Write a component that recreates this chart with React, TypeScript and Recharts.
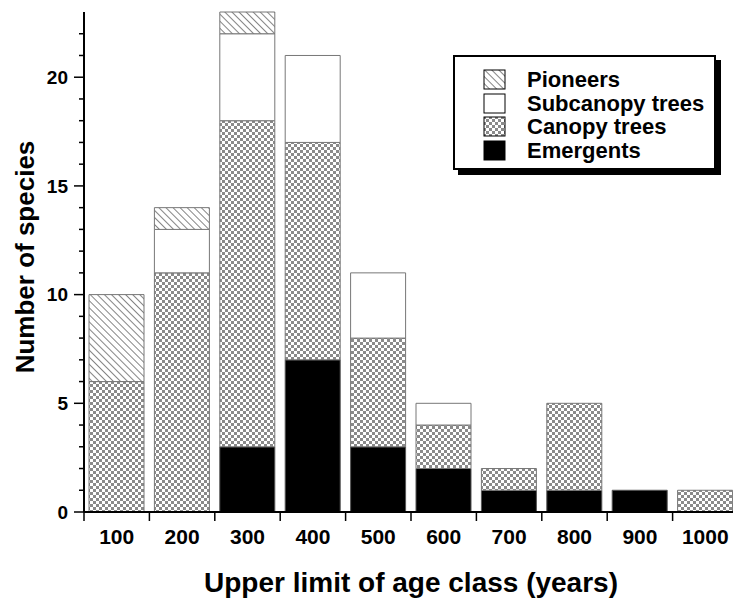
import { Bar, BarChart, Label, Legend, XAxis, YAxis } from 'recharts';

const categorias = ['100', '200', '300', '400', '500', '600', '700', '800', '900', '1000'];
const emergents = [0, 0, 3, 7, 3, 2, 1, 1, 1, 0];
const canopy = [6, 11, 15, 10, 5, 2, 1, 4, 0, 1];
const subcanopy = [0, 2, 4, 4, 3, 1, 0, 0, 0, 0];
const pioneers = [4, 1, 1, 0, 0, 0, 0, 0, 0, 0];
const yTicks = [0, 1, 2, 3, 4, 5, 6, 7, 8, 9, 10, 11, 12, 13, 14, 15, 16, 17, 18, 19, 20, 21, 22];

const FONT = '"Liberation Sans", Arial, Helvetica, sans-serif';
const CHART_W = 740;
const CHART_H = 599;
const Y_AXIS_W = 84;
const MARGIN_RIGHT = 2;
const PLOT_W = CHART_W - Y_AXIS_W - MARGIN_RIGHT;

const dados = categorias.map((c, i) => ({
  idade: c,
  emergents: emergents[i],
  canopy: canopy[i],
  subcanopy: subcanopy[i],
  pioneers: pioneers[i],
}));

// itens da legenda, de cima para baixo
const itensLegenda = [
  { nome: 'Pioneers', fill: 'url(#pad-pioneers)' },
  { nome: 'Subcanopy trees', fill: '#ffffff' },
  { nome: 'Canopy trees', fill: 'url(#pad-canopy)' },
  { nome: 'Emergents', fill: '#000000' },
];

function YTick({ x, y, payload }: any) {
  const major = payload.value % 5 === 0;
  return (
    <g>
      <line x1={x - (major ? 10 : 5)} x2={x} y1={y} y2={y} stroke="#000" strokeWidth={1.5} />
      {major && (
        <text
          x={x - 16}
          y={y}
          dy="0.36em"
          textAnchor="end"
          fontFamily={FONT}
          fontWeight="bold"
          fontSize={19}
          fill="#000"
        >
          {payload.value}
        </text>
      )}
    </g>
  );
}

function XTick({ x, y, payload }: any) {
  const banda = PLOT_W / categorias.length;
  return (
    <g>
      <line x1={x - banda / 2} x2={x - banda / 2} y1={y} y2={y + 9} stroke="#000" strokeWidth={1.5} />
      <text
        x={x}
        y={y + 32}
        textAnchor="middle"
        fontFamily={FONT}
        fontWeight="bold"
        fontSize={21}
        fill="#000"
      >
        {payload.value}
      </text>
    </g>
  );
}

function Legenda() {
  return (
    <div
      style={{
        width: 259,
        height: 111,
        border: '2px solid #000',
        boxShadow: '5px 5px 0 #000',
        background: '#fff',
        boxSizing: 'content-box',
        fontFamily: FONT,
        fontWeight: 'bold',
        fontSize: 22,
        color: '#000',
      }}
    >
      <div style={{ paddingTop: 11, paddingLeft: 28 }}>
        {itensLegenda.map((item) => (
          <div key={item.nome} style={{ display: 'flex', alignItems: 'center', height: 23.5 }}>
            <svg width={23} height={21} style={{ marginRight: 21, flex: 'none' }}>
              <rect x={1} y={1} width={21} height={19} fill={item.fill} stroke="#000" strokeWidth={1} />
            </svg>
            <span style={{ lineHeight: '23px' }}>{item.nome}</span>
          </div>
        ))}
      </div>
    </div>
  );
}

export default function App() {
  return (
    <div
      style={{
        position: 'absolute',
        left: 0,
        top: 0,
        width: 733,
        height: 599,
        overflow: 'hidden',
        background: '#fff',
      }}
    >
      {/* padrões de preenchimento */}
      <svg width={0} height={0} style={{ position: 'absolute' }}>
        <defs>
          <pattern
            id="pad-pioneers"
            patternUnits="userSpaceOnUse"
            width={5}
            height={5}
            patternTransform="rotate(-45)"
          >
            <rect width={5} height={5} fill="#fff" />
            <line x1={0} y1={0} x2={0} y2={5} stroke="#333" strokeWidth={1.2} />
          </pattern>
          <pattern id="pad-canopy" patternUnits="userSpaceOnUse" width={6} height={6}>
            <rect width={6} height={6} fill="#fff" />
            <rect x={0} y={0} width={3} height={3} fill="#8a8a8a" />
            <rect x={3} y={3} width={3} height={3} fill="#8a8a8a" />
          </pattern>
        </defs>
      </svg>

      <BarChart
        width={CHART_W}
        height={CHART_H}
        data={dados}
        margin={{ top: 12, right: MARGIN_RIGHT, left: 0, bottom: 0 }}
        barCategoryGap={5}
      >
        <XAxis
          dataKey="idade"
          height={87}
          axisLine={{ stroke: '#000', strokeWidth: 2 }}
          tickLine={false}
          tickSize={0}
          tickMargin={0}
          interval={0}
          tick={<XTick />}
        >
          <Label
            value="Upper limit of age class (years)"
            position="insideBottom"
            offset={7}
            style={{ fontFamily: FONT, fontWeight: 'bold', fontSize: 28, fill: '#000' }}
          />
        </XAxis>
        <YAxis
          width={Y_AXIS_W}
          domain={[0, 23]}
          ticks={yTicks}
          interval={0}
          axisLine={{ stroke: '#000', strokeWidth: 2 }}
          tickLine={false}
          tickSize={0}
          tickMargin={0}
          tick={<YTick />}
        >
          <Label
            content={({ viewBox }: any) => (
              <text
                x={viewBox.x + 24.5}
                y={viewBox.y + viewBox.height / 2 - 5}
                transform={`rotate(-90 ${viewBox.x + 24.5} ${viewBox.y + viewBox.height / 2 - 5})`}
                textAnchor="middle"
                dominantBaseline="central"
                fontFamily={FONT}
                fontWeight="bold"
                fontSize={26}
                fill="#000"
              >
                Number of species
              </text>
            )}
          />
        </YAxis>
        <Legend
          layout="vertical"
          align="center"
          verticalAlign="middle"
          content={<Legenda />}
          wrapperStyle={{ top: 55, left: 453, width: 'auto', height: 'auto' }}
        />
        <Bar dataKey="emergents" stackId="a" fill="#000" stroke="#555" strokeWidth={1} isAnimationActive={false} />
        <Bar dataKey="canopy" stackId="a" fill="url(#pad-canopy)" stroke="#777" strokeWidth={1} isAnimationActive={false} />
        <Bar dataKey="subcanopy" stackId="a" fill="#fff" stroke="#777" strokeWidth={1} isAnimationActive={false} />
        <Bar dataKey="pioneers" stackId="a" fill="url(#pad-pioneers)" stroke="#777" strokeWidth={1} isAnimationActive={false} />
      </BarChart>
    </div>
  );
}
